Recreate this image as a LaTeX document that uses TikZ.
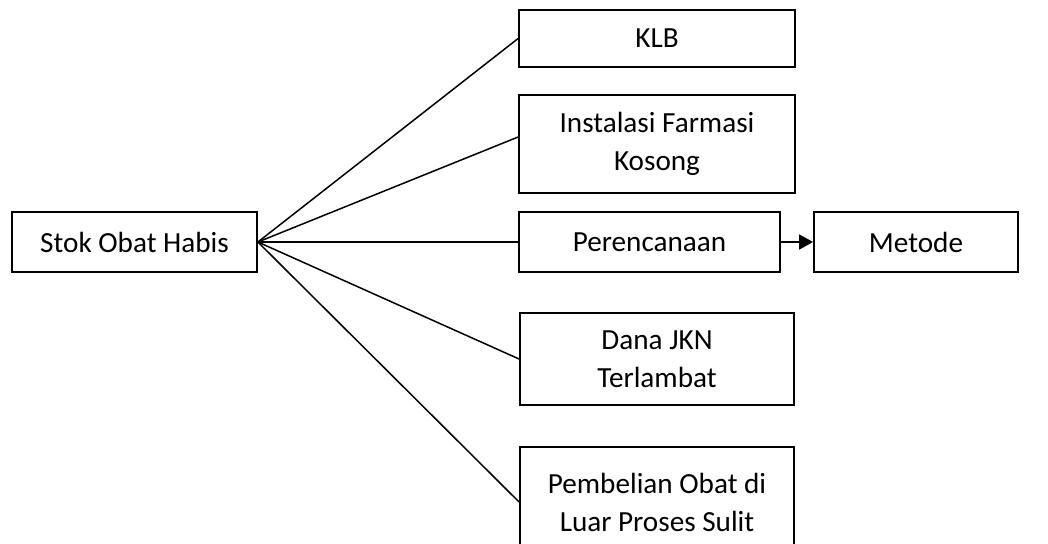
\documentclass[tikz,border=0pt]{standalone}
\usepackage{fontspec}
\setmainfont{Carlito}
\usepackage{tikz}
\usetikzlibrary{arrows.meta}

\begin{document}
\begin{tikzpicture}[x=0.5pt,y=-0.5pt,>={Triangle[length=7pt,width=7.5pt]},line join=miter,
  box/.style={draw,line width=0.9pt,inner sep=0pt,align=center,
    font=\fontsize{14.6}{19}\selectfont},
  link/.style={line width=0.75pt}]
  \useasboundingbox (0,0) rectangle (1048,543);
  \clip (0,0) rectangle (1048,543);
  \node[box,minimum width=122.5pt,minimum height=30pt] (stok) at (134.5,242) {Stok Obat Habis};
  \node[box,minimum width=138pt,minimum height=28.5pt] (klb) at (657,38.5) {KLB};
  \node[box,minimum width=138pt,minimum height=49pt] (inst) at (657,144) {Instalasi Farmasi\\Kosong};
  \node[box,minimum width=130.5pt,minimum height=30pt] (pere) at (649.5,242) {Perencanaan};
  \node[box,minimum width=102pt,minimum height=30pt] (metode) at (916,242) {Metode};
  \node[box,minimum width=137pt,minimum height=46pt] (dana) at (657,359) {Dana JKN\\Terlambat};
  \node[box,minimum width=137pt,minimum height=55pt] (pemb) at (657,502) {Pembelian Obat di\\Luar Proses Sulit};
  \draw[link] (stok.east) -- (klb.west);
  \draw[link] (stok.east) -- ([yshift=3.5pt]inst.west);
  \draw[link] (stok.east) -- (pere.west);
  \draw[link] (stok.east) -- (dana.west);
  \draw[link] (stok.east) -- (pemb.west);
  \draw[link,->] (pere.east) -- (metode.west);
\end{tikzpicture}
\end{document}
